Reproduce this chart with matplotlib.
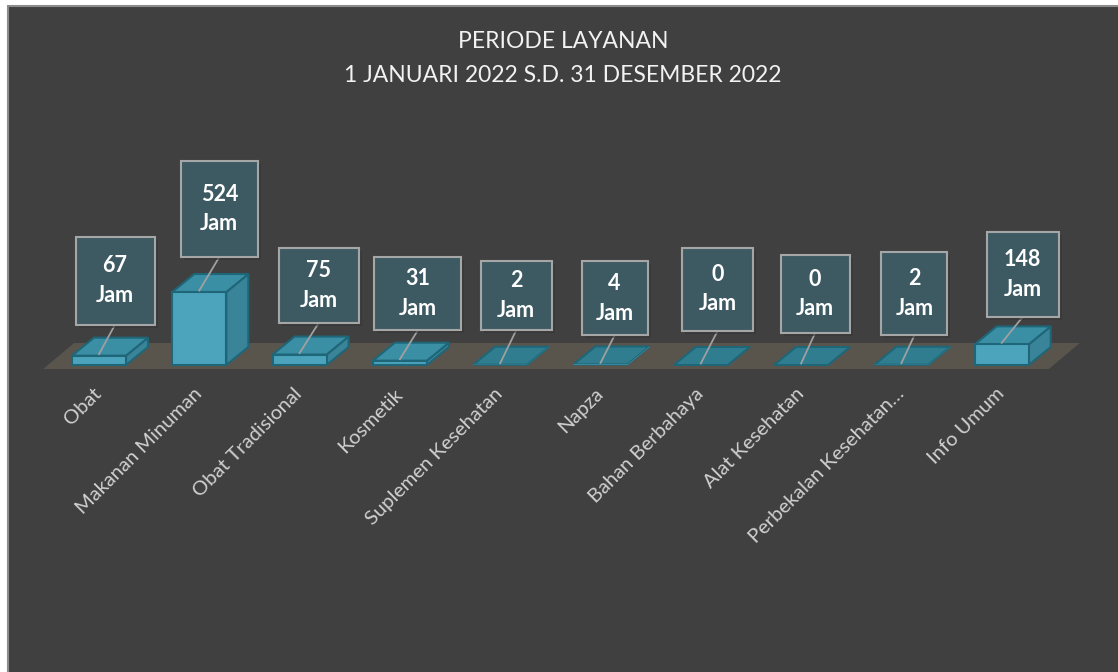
import matplotlib.pyplot as plt
from matplotlib.patches import Polygon, Rectangle
import numpy as np

categories = ['Obat', 'Makanan Minuman', 'Obat Tradisional', 'Kosmetik',
              'Suplemen Kesehatan', 'Napza', 'Bahan Berbahaya', 'Alat Kesehatan',
              'Perbekalan Kesehatan…', 'Info Umum']
jam = [67, 524, 75, 31, 2, 4, 0, 0, 2, 148]
title_lines = ['PERIODE LAYANAN', '1 JANUARI 2022 S.D. 31 DESEMBER 2022']

# callout boxes: centre offset from the bar's front-top point and size, in pixels
box_dx = [16, 20, 19, 18, 16, 14, 17, 14, 13, 21]
box_up = [75, 83, 69, 67, 69, 66, 76, 71, 71, 70]
box_w = [79, 77, 80, 87, 71, 66, 71, 69, 66, 72]
box_h = [88, 96, 75, 73, 69, 74, 83, 78, 83, 85]

PX_X = 1 / 100.3   # category units per pixel
PX_Y = 7.18        # hours per pixel

bar_w = 54 * PX_X
depth_x = 22 * PX_X
depth_y = 18 * PX_Y

c_front = '#4ba3bc'
c_top = '#3b8fa5'
c_side = '#3a8499'
c_edge = '#1e6678'
c_flat = '#2f7d8e'

plt.rcParams['font.family'] = ['Lato', 'DejaVu Sans']

fig = plt.figure(figsize=(11.18, 6.72), dpi=100)
fig.patch.set_facecolor('white')

# chart area background with grey frame
bg = fig.add_axes([0, 0, 1, 1], zorder=-1)
bg.set_xlim(0, 1118)
bg.set_ylim(672, 0)
bg.axis('off')
bg.add_patch(Rectangle((8, 6), 1130, 700, facecolor='#404040',
                       edgecolor='#8c8c8c', linewidth=1.5))

ax = fig.add_axes([0, 0, 1, 1])
ax.set_facecolor('none')
ax.set_xlim(-99 * PX_X, (1118 - 99) * PX_X)
ax.set_ylim(-(672 - 365) * PX_Y, 365 * PX_Y)
ax.axis('off')

# floor slab
n = len(categories)
fl_front, fl_back = -4 * PX_Y, 22 * PX_Y
fl_left, fl_right = -0.557, n - 1 + 0.47
floor = Polygon([(fl_left, fl_front), (fl_right, fl_front),
                 (fl_right + 31 * PX_X, fl_back), (fl_left + 31 * PX_X, fl_back)],
                closed=True, facecolor='#59554d', edgecolor='none', zorder=1)
ax.add_patch(floor)

for i, v in enumerate(jam):
    x0, x1 = i - bar_w / 2, i + bar_w / 2
    top = [(x0, v), (x1, v), (x1 + depth_x, v + depth_y), (x0 + depth_x, v + depth_y)]
    if v <= 4:
        ax.add_patch(Polygon(top, closed=True, facecolor=c_flat, edgecolor=c_edge,
                             linewidth=1.5, zorder=2))
        if v > 0:
            ax.add_patch(Polygon([(x0, 0), (x1, 0), (x1 + depth_x, depth_y),
                                  (x1 + depth_x, v + depth_y), (x1, v), (x0, v)],
                                 closed=True, facecolor=c_front, edgecolor='none',
                                 zorder=2))
        continue
    side = [(x1, 0), (x1 + depth_x, depth_y), (x1 + depth_x, v + depth_y), (x1, v)]
    ax.add_patch(Polygon(side, closed=True, facecolor=c_side, edgecolor=c_edge,
                         linewidth=1.5, zorder=2))
    ax.add_patch(Polygon(top, closed=True, facecolor=c_top, edgecolor=c_edge,
                         linewidth=1.5, zorder=2))
    ax.add_patch(Rectangle((x0, 0), bar_w, v, facecolor=c_front, edgecolor=c_edge,
                           linewidth=1.5, zorder=2))

# callouts with leader lines
for i, v in enumerate(jam):
    cx = i + box_dx[i] * PX_X
    cy = v + box_up[i] * PX_Y
    w = box_w[i] * PX_X
    h = box_h[i] * PX_Y
    ax.plot([i, cx], [v + 1.5 * PX_Y, cy - h / 2], color='#a0a0a0', linewidth=1.3,
            zorder=3)
    ax.add_patch(Rectangle((cx - w / 2 + 3 * PX_X, cy - h / 2 - 3 * PX_Y), w, h,
                           facecolor='#353535', edgecolor='none', alpha=0.6,
                           zorder=3))
    ax.add_patch(Rectangle((cx - w / 2, cy - h / 2), w, h, facecolor='#3d5a63',
                           edgecolor='#a6a6a6', linewidth=1.5, zorder=4))
    ax.text(cx, cy, f'{v}\nJam', ha='center', va='center', color='white',
            fontsize=15.5, fontweight='bold', linespacing=1.5, zorder=5)

# rotated category labels
for i, cat in enumerate(categories):
    ax.text(i - 6 * PX_X, -20 * PX_Y, cat, rotation=45, ha='right', va='top',
            rotation_mode='anchor', color='#d0d0d0', fontsize=14.5)

fig.text(563 / 1118, 1 - 42 / 672, title_lines[0], ha='center', va='center',
         color='#f2f2f2', fontsize=16.5)
fig.text(563 / 1118, 1 - 76 / 672, title_lines[1], ha='center', va='center',
         color='#f2f2f2', fontsize=16.5)

fig.savefig('out.png', dpi=100, facecolor=fig.get_facecolor())
